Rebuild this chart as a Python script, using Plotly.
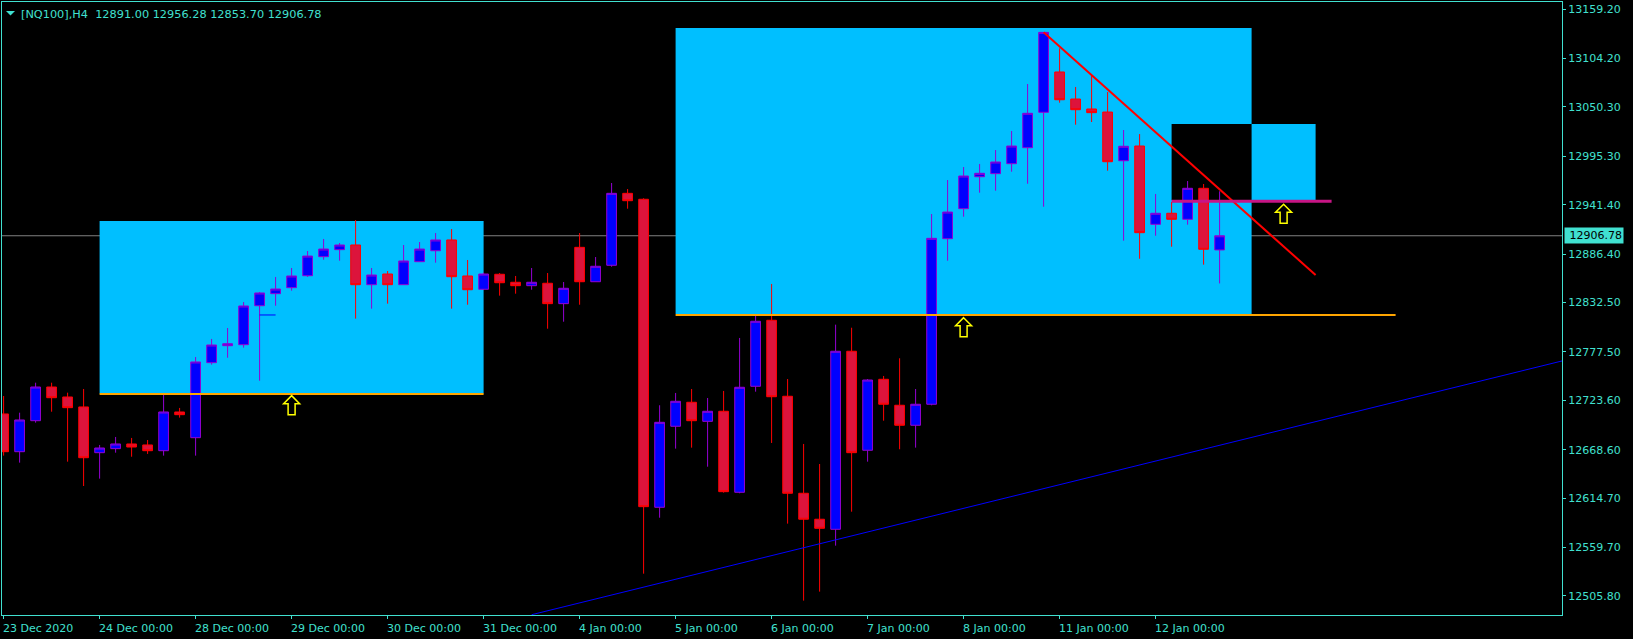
import plotly.graph_objects as go

# ---------------- data (H4 bars, index 0 = 23 Dec 2020 00:00) ----------------
opens = [12708.4, 12666.4, 12700.9, 12738.4, 12727.3, 12716.2, 12665.3, 12669.8, 12675.0, 12673.9,
         12667.5, 12710.6, 12682.0, 12765.5, 12784.4, 12785.5, 12828.9, 12842.3, 12849.0, 12862.3,
         12883.5, 12891.3, 12896.5, 12852.3, 12864.2, 12852.3, 12877.9, 12890.1, 12902.1, 12862.0,
         12847.2, 12863.9, 12855.0, 12851.2, 12853.9, 12831.2, 12893.9, 12855.6, 12873.9, 12954.0,
         12947.4, 12604.5, 12694.7, 12721.4, 12700.2, 12711.4, 12621.2, 12739.2, 12812.7, 12728.1,
         12620.1, 12591.2, 12580.0, 12778.2, 12668.0, 12747.0, 12718.1, 12695.8, 12719.2, 12903.5,
         12936.9, 12972.5, 12975.9, 12987.0, 13004.8, 13044.2, 13089.1, 13059.0, 13047.9, 13044.5,
         12990.3, 13006.7, 12919.5, 12931.8, 12925.1, 12959.6, 12891.00]
highs = [12728.4, 12709.8, 12743.2, 12743.2, 12732.1, 12736.2, 12673.9, 12682.8, 12681.7, 12679.4,
         12729.9, 12715.1, 12771.8, 12791.9, 12804.1, 12833.0, 12844.2, 12860.9, 12870.9, 12889.8,
         12903.2, 12898.7, 12924.3, 12870.9, 12867.5, 12896.5, 12899.8, 12909.8, 12914.3, 12879.8,
         12865.7, 12865.3, 12862.0, 12870.9, 12865.3, 12855.3, 12909.8, 12883.1, 12965.5, 12958.8,
         12948.5, 12718.1, 12731.8, 12736.2, 12726.2, 12734.0, 12793.0, 12818.2, 12853.1, 12747.3,
         12675.0, 12652.7, 12807.8, 12804.4, 12747.3, 12750.7, 12770.4, 12736.2, 12931.0, 12968.8,
         12983.3, 12986.7, 13002.2, 13023.4, 13075.7, 13133.2, 13115.4, 13072.4, 13084.6, 13066.8,
         13024.5, 13020.0, 12953.3, 12944.4, 12967.7, 12964.4, 12956.28]
lows = [12662.0, 12654.2, 12698.7, 12710.9, 12655.3, 12628.2, 12636.4, 12665.3, 12660.8, 12663.9,
        12662.0, 12704.3, 12662.0, 12763.3, 12771.0, 12782.2, 12745.4, 12828.9, 12845.6, 12860.9,
        12880.1, 12879.0, 12814.5, 12825.6, 12831.2, 12852.3, 12877.9, 12876.8, 12825.6, 12830.0,
        12846.4, 12840.1, 12842.3, 12846.7, 12803.3, 12811.1, 12830.0, 12855.6, 12872.3, 12936.9,
        12530.6, 12592.9, 12669.8, 12670.9, 12649.7, 12620.8, 12620.1, 12733.2, 12676.1, 12586.3,
        12500.6, 12510.6, 12561.8, 12599.6, 12655.3, 12700.9, 12669.1, 12670.9, 12718.0, 12879.0,
        12928.0, 12954.7, 12956.9, 12978.1, 12964.7, 12939.1, 13054.9, 13030.4, 13033.4, 12979.2,
        12901.3, 12881.2, 12906.8, 12894.6, 12919.1, 12874.6, 12853.70]
closes = [12666.4, 12701.7, 12738.4, 12726.5, 12715.4, 12659.7, 12670.5, 12675.0, 12671.6, 12667.5,
          12710.6, 12707.6, 12766.3, 12785.2, 12786.6, 12828.6, 12843.1, 12847.5, 12862.0, 12884.2,
          12892.0, 12896.5, 12852.3, 12863.1, 12852.3, 12878.7, 12892.0, 12902.1, 12861.2, 12846.7,
          12864.2, 12854.5, 12851.2, 12855.0, 12831.2, 12848.3, 12855.6, 12872.8, 12954.0, 12945.8,
          12605.2, 12699.1, 12722.5, 12700.9, 12711.4, 12621.9, 12738.1, 12811.6, 12727.6, 12620.1,
          12591.2, 12581.1, 12778.2, 12665.3, 12746.2, 12719.2, 12695.8, 12719.2, 12903.9, 12933.2,
          12973.3, 12976.3, 12988.9, 13006.7, 13043.1, 13133.2, 13058.2, 13047.1, 13043.8, 12989.2,
          13006.4, 12910.2, 12931.8, 12925.1, 12959.6, 12891.7, 12906.78]

x_tick_index = [0, 6, 12, 18, 24, 30, 36, 42, 48, 54, 60, 66, 72]
x_tick_labels = ["23 Dec 2020", "24 Dec 00:00", "28 Dec 00:00", "29 Dec 00:00", "30 Dec 00:00",
                 "31 Dec 00:00", "4 Jan 00:00", "5 Jan 00:00", "6 Jan 00:00", "7 Jan 00:00",
                 "8 Jan 00:00", "11 Jan 00:00", "12 Jan 00:00"]
y_tick_values = [13159.20, 13104.20, 13050.30, 12995.30, 12941.40, 12886.40, 12832.50,
                 12777.50, 12723.60, 12668.60, 12614.70, 12559.70, 12505.80]

symbol_title = "[NQ100],H4"
last_price = 12906.78

# drawn objects (bar index, price)
zone_boxes = [  # x0, x1, p_low, p_high
    (6, 30, 12731.2, 12923.2),
    (42, 78, 12819.7, 13138.0),
    (73, 82, 12946.6, 13031.2),
]
zone_overlap = (73, 78, 12946.6, 13031.2)
orange_levels = [(6, 30, 12730.6), (42, 87, 12818.6)]
magenta_level = (73, 83, 12945.1)
red_trend = ([65, 82], [13133.2, 12863.1])
blue_trend = ([33, 97.4], [12484.9, 12767.4])
blue_stub = ([16, 17], [12818.6, 12818.6])
arrow_marks = [(18, 12728.8), (60, 12815.6), (80, 12941.8)]

# ---------------- style ----------------
W, H = 1633, 639
ML, MR, MT, MB = 2, 71, 2, 24
PLOT_W, PLOT_H = W - ML - MR, H - MT - MB
X_RANGE = [-0.1, 97.4]
Y_RANGE = [12484.6, 13167.0]
TURQ = "#40E0D0"
CYAN = "#00BFFF"
BULL_FILL, BULL_LINE = "#0000FF", "#9400D3"
BEAR_FILL, BEAR_LINE = "#DC143C", "#FF0000"
FONT = "DejaVu Sans"

PX_X = PLOT_W / (X_RANGE[1] - X_RANGE[0])
PX_Y = PLOT_H / (Y_RANGE[1] - Y_RANGE[0])

fig = go.Figure()

fig.add_trace(go.Candlestick(
    x=list(range(len(opens))), open=opens, high=highs, low=lows, close=closes,
    increasing=dict(line=dict(color=BULL_LINE, width=1), fillcolor=BULL_FILL),
    decreasing=dict(line=dict(color=BEAR_LINE, width=1), fillcolor=BEAR_FILL),
    whiskerwidth=0, hoverinfo="skip", showlegend=False))

def add_line(xs, ys, color, width):
    fig.add_trace(go.Scatter(x=xs, y=ys, mode="lines", line=dict(color=color, width=width),
                             hoverinfo="skip", showlegend=False))

for x0, x1, p in orange_levels:
    add_line([x0, x1], [p, p], "#FFA500", 2)
add_line(red_trend[0], red_trend[1], "#FF0000", 2)
add_line([magenta_level[0], magenta_level[1]], [magenta_level[2]] * 2, "#C71585", 3)
add_line(blue_trend[0], blue_trend[1], "#0000FF", 1)
add_line(blue_stub[0], blue_stub[1], "#0000FF", 1)

shapes = []
for x0, x1, p0, p1 in zone_boxes:
    shapes.append(dict(type="rect", xref="x", yref="y", x0=x0, x1=x1, y0=p0, y1=p1,
                       fillcolor=CYAN, line=dict(width=0), layer="below"))
x0, x1, p0, p1 = zone_overlap
shapes.append(dict(type="rect", xref="x", yref="y", x0=x0, x1=x1, y0=p0, y1=p1,
                   fillcolor="black", line=dict(width=0), layer="below"))
shapes.append(dict(type="line", xref="paper", yref="y", x0=0, x1=1, y0=last_price, y1=last_price,
                   line=dict(color="#808080", width=1), layer="below"))

ARROW_PTS = [(0, 0), (8, 8), (3.5, 8), (3.5, 19), (-3.5, 19), (-3.5, 8), (-8, 8)]
def arrow_path(xc, ptop):
    return "M " + " L ".join(f"{xc + dx / PX_X:.4f},{ptop - dy / PX_Y:.3f}" for dx, dy in ARROW_PTS) + " Z"

for xc, pt in arrow_marks:
    shapes.append(dict(type="path", xref="x", yref="y", path=arrow_path(xc, pt),
                       line=dict(color="#FFFF00", width=1.5), fillcolor="rgba(0,0,0,0)", layer="above"))

# header triangle (paper coords from pixel layout)
def pp(px, py):
    return (px - ML) / PLOT_W, 1 - (py - MT) / PLOT_H
tri = [pp(6, 11), pp(15, 11), pp(10.5, 15.5)]
shapes.append(dict(type="path", xref="paper", yref="paper",
                   path="M " + " L ".join(f"{a:.5f},{b:.5f}" for a, b in tri) + " Z",
                   fillcolor=TURQ, line=dict(width=0), layer="above"))

annotations = []
for xi, lab in zip(x_tick_index, x_tick_labels):
    annotations.append(dict(x=xi, xref="x", y=0, yref="paper", text=lab, showarrow=False,
                            xanchor="left", yanchor="top", xshift=-3, yshift=-5,
                            font=dict(family=FONT, size=11, color=TURQ)))
header = symbol_title + "\u00a0\u00a0" + " ".join(f"{v:.2f}" for v in (opens[-1], highs[-1], lows[-1], closes[-1]))
annotations.append(dict(x=0, xref="paper", y=1, yref="paper", text=header, showarrow=False,
                        xanchor="left", yanchor="top", xshift=17, yshift=-4,
                        font=dict(family=FONT, size=11.3, color=TURQ)))
annotations.append(dict(x=1, xref="paper", y=last_price, yref="y", text="\u00a0" + f"{last_price:.2f}",
                        showarrow=False, xanchor="left", yanchor="middle", xshift=2,
                        bgcolor=TURQ, borderpad=1, font=dict(family=FONT, size=11, color="black")))

fig.update_layout(
    width=W, height=H, margin=dict(l=ML, r=MR, t=MT, b=MB),
    paper_bgcolor="black", plot_bgcolor="black", showlegend=False,
    boxgap=0.2, boxgroupgap=0.24,
    font=dict(family=FONT, size=11, color=TURQ),
    xaxis=dict(range=X_RANGE, rangeslider=dict(visible=False), showgrid=False, zeroline=False,
               showline=True, linecolor=TURQ, linewidth=1, mirror=True,
               ticks="outside", ticklen=3, tickcolor=TURQ, tickvals=x_tick_index,
               showticklabels=False, fixedrange=True),
    yaxis=dict(side="right", range=Y_RANGE, showgrid=False, zeroline=False,
               showline=True, linecolor=TURQ, linewidth=1, mirror=True,
               ticks="outside", ticklen=3, tickcolor=TURQ,
               tickvals=y_tick_values, ticktext=[f"{v:.2f}" for v in y_tick_values],
               tickfont=dict(family=FONT, size=11, color=TURQ), fixedrange=True),
    shapes=shapes, annotations=annotations, hovermode=False,
)

fig.write_html("out.html", config={"displayModeBar": False},
               post_script="document.body.style.margin='0px';")
